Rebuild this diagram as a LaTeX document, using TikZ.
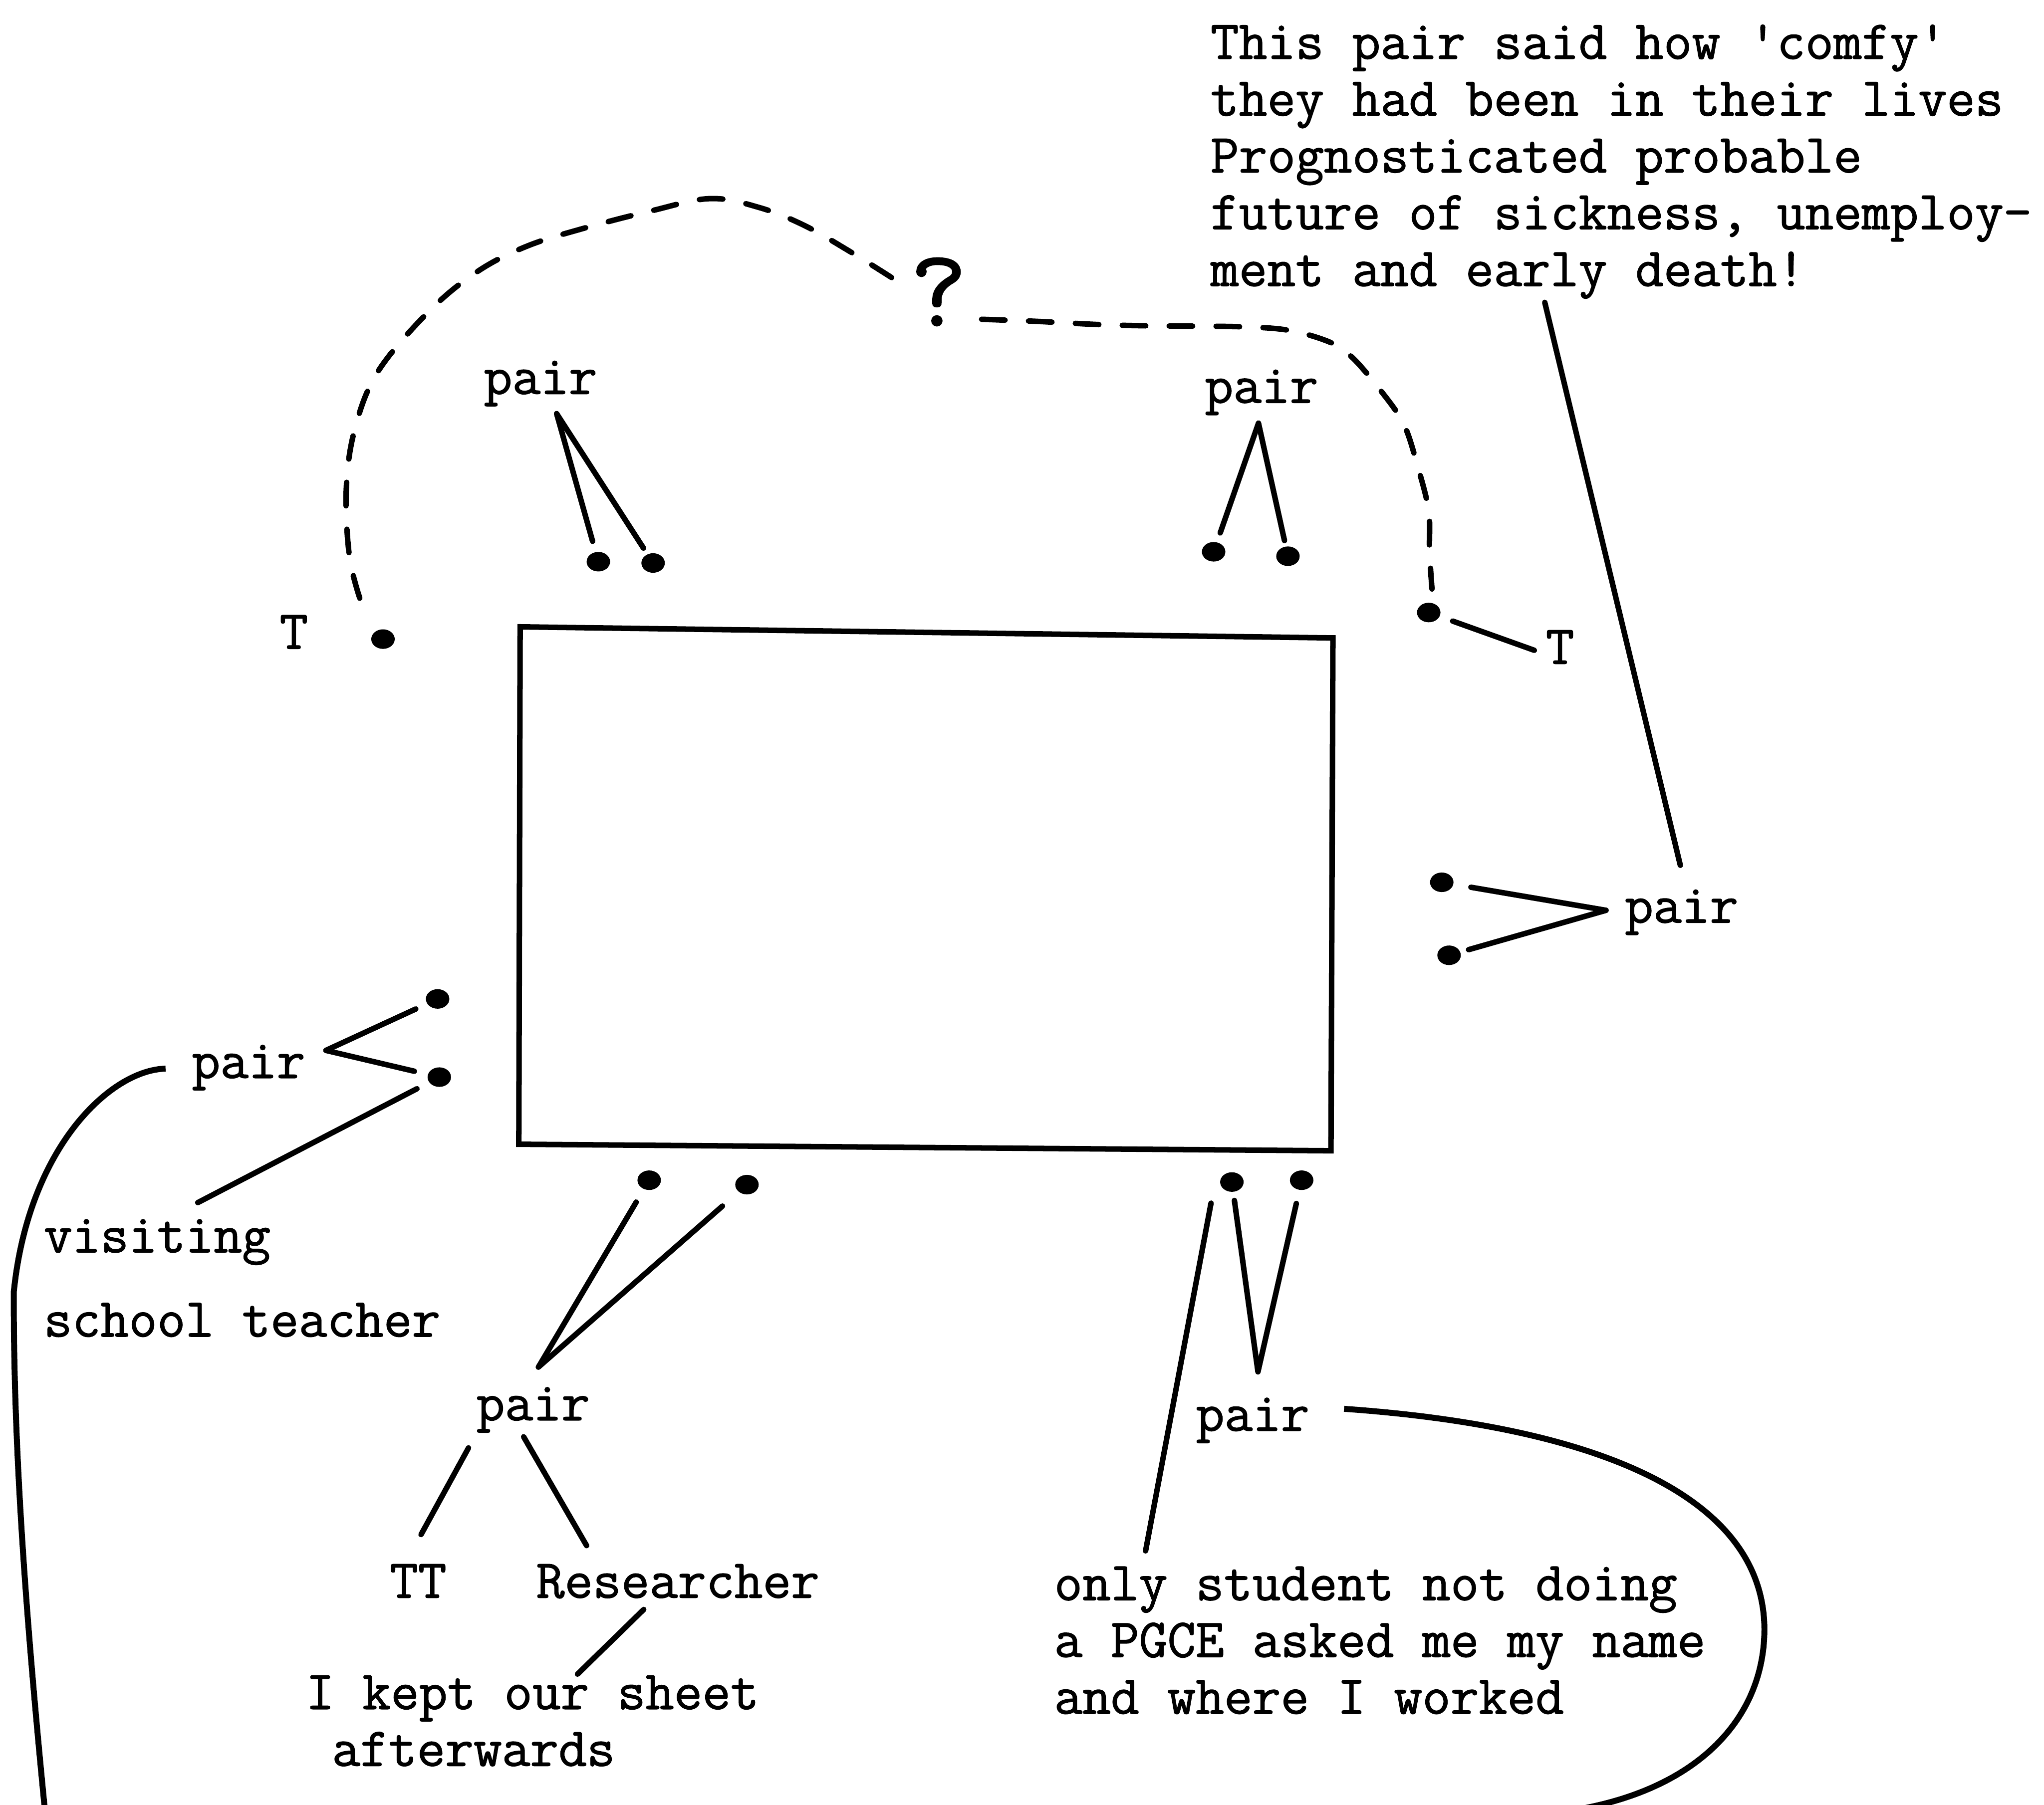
\documentclass[tikz,border=0pt]{standalone}
\usepackage{fontspec}
\setmainfont[FakeBold=1.3]{Latin Modern Mono}
\usetikzlibrary{shapes.geometric}

\begin{document}
\begin{tikzpicture}
	[every node/.style={inner sep=0pt, font=\fontsize{12}{12.4}\selectfont},
	 dot/.style={ellipse, fill, minimum width=1.8mm, minimum height=1.5mm},
	 line/.style={line width=1.2pt, line cap=round},
	 dashline/.style={line width=1.2pt, line cap=round, dash pattern=on 1.8mm off 1.8mm},
	 loopline/.style={line width=1.3pt}]
	\path[use as bounding box, clip] (0,0) rectangle (15.68,13.85);

	% the table
	\draw[line] (3.99,9.04) -- (10.225,8.955) -- (10.21,5.02) -- (3.98,5.07) -- cycle;

	% people round the table
	\node[dot] (dA1) at (4.59,9.54) {};
	\node[dot] (dA2) at (5.01,9.53) {};
	\node[dot] (dB1) at (9.31,9.616) {};
	\node[dot] (dB2) at (9.88,9.582) {};
	\node[dot] (dTl) at (2.938,8.946) {};
	\node[dot] (dTr) at (10.96,9.15) {};
	\node[dot] (dR1) at (11.06,7.08) {};
	\node[dot] (dR2) at (11.116,6.52) {};
	\node[dot] (dL1) at (3.357,6.185) {};
	\node[dot] (dL2) at (3.37,5.585) {};
	\node[dot] (dD1) at (4.98,4.794) {};
	\node[dot] (dD2) at (5.73,4.76) {};
	\node[dot] (dE1) at (9.45,4.78) {};
	\node[dot] (dE2) at (9.985,4.794) {};

	% labels
	\node[anchor=base] (pA) at (4.147,10.827) {pair};
	\node[anchor=base] (pB) at (9.678,10.759) {pair};
	\node[anchor=base] (Tl) at (2.254,8.872) {T};
	\node[anchor=base] (Tr) at (11.967,8.756) {T};
	\node[anchor=base] (pR) at (12.90,6.77) {pair};
	\node[anchor=base] (pL) at (1.907,5.578) {pair};
	\node[anchor=base] (pD) at (4.09,2.952) {pair};
	\node[anchor=base] (TT) at (3.208,1.59) {TT};
	\node[anchor=base] (res) at (5.20,1.59) {Researcher};
	\node[anchor=base] (pE) at (9.61,2.871) {pair};
	\node[anchor=base, font=\fontsize{24}{24}\selectfont] (q) at (7.20,11.35) {?};
	\node[anchor=base west, align=left] (visit) at (0.33,3.594) {visiting\\[6pt]school teacher};
	\node[anchor=base west, align=left] (kept) at (2.34,0.30) {I kept our sheet\\\hspace*{0.2cm}afterwards};
	\node[anchor=base west, align=left] (only) at (8.08,0.70) {only student not doing\\a PGCE asked me my name\\and where I worked};
	\node[anchor=base west, align=left] (note) at (9.28,11.655) {This pair said how \textquotesingle comfy\textquotesingle\\they had been in their lives\\Prognosticated probable\\future of sickness, unemploy-\\ment and early death!};

	% line ends beside the labels
	\coordinate (pA-v) at (4.27,10.676);
	\coordinate (pB-v) at (9.654,10.603);
	\coordinate (Tr-e) at (11.77,8.86);
	\coordinate (pR-v) at (12.32,6.865);
	\coordinate (note-e) at (11.85,11.53);
	\coordinate (pR-n) at (12.89,7.21);
	\coordinate (pL-v) at (2.50,5.79);
	\coordinate (visit-n) at (1.517,4.622);
	\coordinate (pD-v) at (4.13,3.36);
	\coordinate (pD-l) at (3.594,2.74);
	\coordinate (TT-n) at (3.23,2.075);
	\coordinate (pD-r) at (4.017,2.825);
	\coordinate (res-n) at (4.50,1.99);
	\coordinate (res-s) at (4.938,1.50);
	\coordinate (kept-n) at (4.43,1.004);
	\coordinate (pE-v) at (9.65,3.324);
	\coordinate (only-n) at (8.788,1.95);
	\coordinate (pL-w) at (1.27,5.65);
	\coordinate (pE-e) at (10.31,3.04);
	\coordinate (arcA) at (2.76,9.26);
	\coordinate (arcB) at (6.84,11.72);
	\coordinate (arcC) at (7.53,11.40);
	\coordinate (arcD) at (10.985,9.33);

	% connectors
	\draw[line, shorten <=0.8mm] (dA1) -- (pA-v);
	\draw[line, shorten <=0.5mm] (dA2) -- (pA-v);
	\draw[line, shorten <=0.7mm] (dB1) -- (pB-v);
	\draw[line, shorten <=0.4mm] (dB2) -- (pB-v);
	\draw[line, shorten <=1mm] (dTr) -- (Tr-e);
	\draw[line, shorten <=1.3mm] (dR1) -- (pR-v);
	\draw[line, shorten <=0.6mm] (dR2) -- (pR-v);
	\draw[line] (note-e) -- (pR-n);
	\draw[line, shorten <=0.9mm] (dL1) -- (pL-v);
	\draw[line, shorten >=1mm] (pL-v) -- (dL2);
	\draw[line, shorten <=1mm] (dL2) -- (visit-n);
	\draw[line, shorten <=1.1mm] (dD1) -- (pD-v);
	\draw[line, shorten <=1.6mm] (dD2) -- (pD-v);
	\draw[line] (pD-l) -- (TT-n);
	\draw[line] (pD-r) -- (res-n);
	\draw[line] (res-s) -- (kept-n);
	\draw[line, shorten <=0.6mm] (dE1) -- (pE-v);
	\draw[line, shorten >=1mm] (pE-v) -- (dE2);
	\draw[line] ([xshift=-1.6mm,yshift=-0.8mm]dE1.south) -- (only-n);

	% dashed links between the two T
	\draw[dashline] plot[smooth, tension=0.6] coordinates {(arcA) (2.68,9.585) (2.656,10.09) (2.72,10.55) (2.90,11.0) (3.30,11.47) (3.668,11.77) (4.04,11.96) (4.467,12.095) (5.00,12.233) (5.45,12.326) (5.826,12.257) (6.17,12.12) (6.52,11.92) (arcB)};
	\draw[dashline] plot[smooth, tension=0.55] coordinates {(arcC) (7.955,11.384) (8.42,11.36) (8.80,11.35) (9.51,11.343) (9.89,11.315) (10.20,11.225) (10.37,11.11) (10.566,10.885) (10.765,10.603) (10.877,10.265) (10.96,9.93) (10.966,9.62) (arcD)};

	% the long loop joining the two pairs
	\draw[loopline] (pL-w) .. controls (0.85,5.64) and (0.22,5.05) .. (0.106,3.94) .. controls (0.10,2.5) and (0.25,0.9) .. (0.38,-0.40);
	\draw[loopline] (pE-e) .. controls (12.30,2.90) and (13.53,2.35) .. (13.535,1.35) .. controls (13.535,0.65) and (13.00,0.09) .. (12.00,-0.05);
\end{tikzpicture}
\end{document}
